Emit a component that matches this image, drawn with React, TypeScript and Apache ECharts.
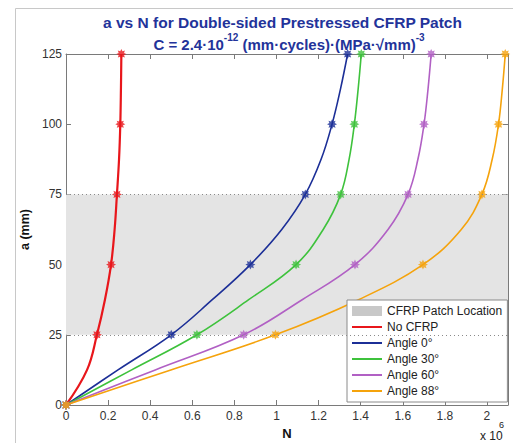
import React, { useEffect, useRef } from 'react';
import * as echarts from 'echarts';

const FONT = '"Liberation Sans", Arial, Helvetica, sans-serif';

// crack length a (mm) along each curve
const crackLengths = [0, 12.5, 25, 37.5, 50, 62.5, 75, 87.5, 100, 112.5, 125];
// crack lengths that carry a marker
const markerStep = 25;
// number of cycles N (x 10^6) at each crack length
const cyclesNoCFRP = [0, 0.1, 0.147, 0.185, 0.214, 0.231, 0.242, 0.252, 0.258, 0.261, 0.263];
const cyclesAngle0 = [0, 0.247, 0.5, 0.695, 0.876, 1.025, 1.137, 1.212, 1.264, 1.304, 1.338];
const cyclesAngle30 = [0, 0.312, 0.622, 0.868, 1.093, 1.222, 1.305, 1.345, 1.37, 1.388, 1.403];
const cyclesAngle60 = [0, 0.424, 0.844, 1.122, 1.373, 1.53, 1.625, 1.672, 1.701, 1.72, 1.735];
const cyclesAngle88 = [0, 0.498, 0.995, 1.39, 1.696, 1.878, 1.976, 2.025, 2.055, 2.073, 2.087];

const seriesNames = ['No CFRP', 'Angle 0°', 'Angle 30°', 'Angle 60°', 'Angle 88°'];
const seriesCycles = [cyclesNoCFRP, cyclesAngle0, cyclesAngle30, cyclesAngle60, cyclesAngle88];
const seriesColors = ['#e8161b', '#1c2f97', '#3ec23c', '#b160c4', '#f5a30c'];
const seriesWidths = [2.2, 1.6, 1.6, 1.6, 1.6];

const patchName = 'CFRP Patch Location';
const patchRange = [25, 75];

const xMin = 0;
const xMax = 2.1;
const xInterval = 0.2;
const yMin = 0;
const yMax = 125;
const yInterval = 25;

function starPath(): string {
  const pts: string[] = [];
  for (let i = 0; i < 16; i++) {
    const ang = (i * Math.PI) / 8 - Math.PI / 2;
    const r = i % 2 === 0 ? 10 : 5.8;
    pts.push(`${(10 + r * Math.cos(ang)).toFixed(2)},${(10 + r * Math.sin(ang)).toFixed(2)}`);
  }
  return 'path://M' + pts.join(' L') + ' Z';
}

const lineIcon = 'path://M0,0 H30 V2 H0 Z';

export default function App() {
  const ref = useRef<HTMLDivElement>(null);

  useEffect(() => {
    document.body.style.margin = '0';
    if (!ref.current) return;
    const chart = echarts.init(ref.current, undefined, { renderer: 'svg' });
    const star = starPath();

    const series: any[] = [
      {
        type: 'line',
        name: patchName,
        data: [],
        silent: true,
        itemStyle: { color: '#c8c8c8' },
        markArea: {
          silent: true,
          itemStyle: { color: '#e4e4e4' },
          data: [[{ yAxis: patchRange[0] }, { yAxis: patchRange[1] }]],
        },
        markLine: {
          silent: true,
          symbol: 'none',
          label: { show: false },
          lineStyle: { type: [1, 3], color: '#8a8a8a', width: 1 },
          data: patchRange.map((v) => ({ yAxis: v })),
        },
      },
    ];

    seriesNames.forEach((name, i) => {
      const pts = crackLengths.map((a, k) => [seriesCycles[i][k], a]);
      const marks = pts.filter((p) => p[1] % markerStep === 0);
      series.push({
        type: 'line',
        name,
        data: pts,
        smooth: 0.4,
        symbol: 'none',
        lineStyle: { color: seriesColors[i], width: seriesWidths[i] },
        itemStyle: { color: seriesColors[i] },
        z: 3,
      });
      series.push({
        type: 'scatter',
        name: name + ' markers',
        data: marks,
        symbol: star,
        symbolSize: 10,
        itemStyle: { color: seriesColors[i] },
        z: 4,
      });
    });

    const axisColor = '#7a7a7a';

    chart.setOption({
      animation: false,
      backgroundColor: '#ffffff',
      grid: { left: 66, right: 5, top: 54, bottom: 38, containLabel: false, outerBoundsMode: 'none' },
      xAxis: [
        {
          type: 'value',
          min: xMin,
          max: xMax,
          interval: xInterval,
          position: 'bottom',
          axisLine: { show: true, onZero: false, lineStyle: { color: axisColor } },
          axisTick: { show: true, inside: true, length: 5, lineStyle: { color: axisColor } },
          axisLabel: {
            color: '#333',
            fontSize: 12,
            fontFamily: FONT,
            margin: 5,
            formatter: (v: number) => (v > 2.05 ? '' : String(Number(v.toFixed(1)))),
          },
          splitLine: { show: false },
          name: 'N',
          nameLocation: 'middle',
          nameGap: 21,
          nameTextStyle: { fontWeight: 'bold', fontSize: 13, color: '#111', fontFamily: FONT },
        },
        {
          type: 'value',
          min: xMin,
          max: xMax,
          interval: xInterval,
          position: 'top',
          axisLine: { show: true, onZero: false, lineStyle: { color: axisColor } },
          axisTick: { show: true, inside: true, length: 5, lineStyle: { color: axisColor } },
          axisLabel: { show: false },
          splitLine: { show: false },
        },
      ],
      yAxis: [
        {
          type: 'value',
          min: yMin,
          max: yMax,
          interval: yInterval,
          position: 'left',
          axisLine: { show: true, onZero: false, lineStyle: { color: axisColor } },
          axisTick: { show: true, inside: true, length: 5, lineStyle: { color: axisColor } },
          axisLabel: { color: '#333', fontSize: 12, fontFamily: FONT, margin: 4 },
          splitLine: { show: false },
          name: 'a (mm)',
          nameLocation: 'middle',
          nameGap: 25,
          nameTextStyle: { fontWeight: 'bold', fontSize: 12.5, color: '#111', fontFamily: FONT },
        },
        {
          type: 'value',
          min: yMin,
          max: yMax,
          interval: yInterval,
          position: 'right',
          axisLine: { show: true, onZero: false, lineStyle: { color: axisColor } },
          axisTick: { show: true, inside: true, length: 5, lineStyle: { color: axisColor } },
          axisLabel: { show: false },
          splitLine: { show: false },
        },
      ],
      legend: {
        orient: 'vertical',
        left: 347,
        top: 300,
        itemWidth: 30,
        itemHeight: 10,
        itemGap: 2,
        itemTextGap: 3,
        padding: [4, 5, 4, 5],
        backgroundColor: '#ffffff',
        borderColor: '#8a8a8a',
        borderWidth: 1,
        borderRadius: 0,
        selectedMode: false,
        symbolKeepAspect: true,
        textStyle: { fontFamily: FONT, fontSize: 12, color: '#222', lineHeight: 14 },
        data: [
          { name: patchName, icon: 'rect', itemStyle: { color: '#c8c8c8' } },
          ...seriesNames.map((n, i) => ({ name: n, icon: lineIcon, itemStyle: { color: seriesColors[i] } })),
        ],
      },
      graphic: [
        {
          type: 'rect',
          silent: true,
          z: -10,
          shape: { x: 15.5, y: 8.5, width: 700, height: 700 },
          style: { fill: 'none', stroke: '#c8c8c8', lineWidth: 1 },
        },
        {
          type: 'text',
          x: 282.5,
          y: 22.5,
          style: {
            text: 'a vs N for Double-sided Prestressed CFRP Patch',
            fontSize: 15.5,
            fontWeight: 'bold',
            fontFamily: FONT,
            fill: '#23339a',
            align: 'center',
            verticalAlign: 'middle',
          },
        },
        {
          type: 'text',
          x: 289,
          y: 42,
          style: {
            text: '{n|C = 2.4·10}{s|-12}{n| (mm·cycles)·(MPa·√mm)}{s|-3}',
            fontSize: 15,
            fontWeight: 'bold',
            fontFamily: FONT,
            fill: '#23339a',
            align: 'center',
            verticalAlign: 'middle',
            rich: {
              n: { fontSize: 15, fontWeight: 'bold', fontFamily: FONT, fill: '#23339a', color: '#23339a', lineHeight: 19, verticalAlign: 'bottom' },
              s: { fontSize: 10, fontWeight: 'bold', fontFamily: FONT, fill: '#23339a', color: '#23339a', verticalAlign: 'top' },
            },
          },
        },
        {
          type: 'text',
          x: 480,
          y: 436,
          style: {
            text: 'x 10',
            fontSize: 12,
            fontFamily: FONT,
            fill: '#222',
            align: 'left',
            verticalAlign: 'middle',
          },
        },
        {
          type: 'text',
          x: 499,
          y: 425,
          style: {
            text: '6',
            fontSize: 9,
            fontFamily: FONT,
            fill: '#222',
            align: 'left',
            verticalAlign: 'middle',
          },
        },
      ],
      series,
    });

    return () => {
      chart.dispose();
    };
  }, []);

  return <div ref={ref} style={{ width: 513, height: 443 }} />;
}
